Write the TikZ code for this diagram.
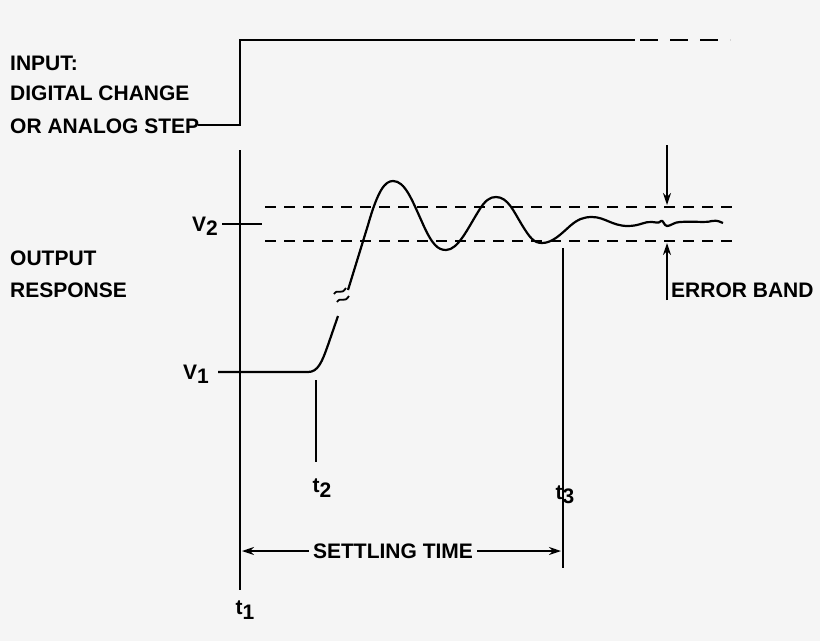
\documentclass[tikz,border=0pt]{standalone}
\usepackage{fontspec}
\setmainfont{Liberation Sans}
\usetikzlibrary{arrows.meta}
\begin{document}
\begin{tikzpicture}[x=1pt,y=-1pt,
  ln/.style={line width=2.2pt},
  thin/.style={line width=1.8pt},
  dsh/.style={line width=2pt,dash pattern=on 11pt off 8pt},
  lbl/.style={font=\bfseries\fontsize{21}{21}\selectfont,inner sep=0pt},
  arr/.style={line width=1.6pt,-{Stealth[length=12pt,width=8pt]}}]
\fill[white!96!black] (0,0) rectangle (820,641);
\useasboundingbox (0,0) rectangle (820,641);
% labels
\node[lbl,anchor=west] (in1) at (10,63) {INPUT:};
\node[lbl,anchor=west] (in2) at (10,93) {DIGITAL CHANGE};
\node[lbl,anchor=west] (in3) at (10,126) {OR ANALOG STEP};
\node[lbl,anchor=west] (out1) at (10,258) {OUTPUT};
\node[lbl,anchor=west] (out2) at (10,290) {RESPONSE};
% input step
\coordinate (s0) at (198,125);
\coordinate (s1) at (240,125);
\coordinate (s2) at (240,40);
\coordinate (s3) at (635,40);
\coordinate (s4) at (730,40);
\draw[ln] (s0) -- (s1) -- (s2) -- (s3);
\draw[line width=2pt,dash pattern=on 18pt off 12pt] (640,40) -- (s4);
% axis
\coordinate (a0) at (240,150); \coordinate (a1) at (240,590);
\draw[ln] (a0) -- (a1);
% V2
\coordinate (v2a) at (222,224); \coordinate (v2b) at (262,224);
\draw[thin] (v2a) -- (v2b);
\node[lbl] (V2) at (205,226) {V\raisebox{-0.4ex}{2}};
\node[lbl] (V1) at (196,374) {V\raisebox{-0.4ex}{1}};
% dashed band
\coordinate (d1) at (265,207); \coordinate (d2) at (735,207);
\coordinate (d3) at (265,241); \coordinate (d4) at (735,241);
\draw[dsh] (d1) -- (d2);
\draw[dsh] (d3) -- (d4);
% response curve
\draw[ln,line join=round] (218,372) -- (308,372) .. controls (318,372) and (322,362) .. (328,345) -- (338,316);
\draw[ln,line join=round] (348,290) -- (368,225) .. controls (378,190) and (385,181) .. (393,181)
  .. controls (405,181) and (412,200) .. (422,222) .. controls (432,245) and (438,250) .. (446,250)
  .. controls (458,250) and (468,228) .. (478,212) .. controls (485,200) and (490,197) .. (496,197)
  .. controls (508,197) and (514,212) .. (522,225) .. controls (530,238) and (534,243) .. (542,243)
  .. controls (552,243) and (560,235) .. (570,226) .. controls (578,219) and (584,217) .. (592,217)
  .. controls (605,217) and (612,226) .. (628,226)
  .. controls (640,226) and (645,221) .. (652,222) .. controls (656,222) and (658,224) .. (661,221)
  .. controls (663,219) and (664,226) .. (667,226) .. controls (671,226) and (674,222) .. (680,222)
  .. controls (695,221) and (705,223) .. (712,221) .. controls (718,220) and (720,222) .. (723,223);
% break marks
\draw[line width=1.8pt] (334,294) .. controls (338,288) and (341,296) .. (346,288);
\draw[line width=1.8pt] (337,302) .. controls (341,296) and (344,304) .. (349,296);
% t2
\coordinate (t2a) at (316,380); \coordinate (t2b) at (316,462);
\draw[thin] (t2a) -- (t2b);
\node[lbl] (T2) at (322,488) {t\raisebox{-0.4ex}{2}};
% t3
\coordinate (t3a) at (563,248); \coordinate (t3b) at (563,568);
\draw[thin] (t3a) -- (t3b);
\node[lbl] (T3) at (565,495) {t\raisebox{-0.4ex}{3}};
\node[lbl] (T1) at (245,610) {t\raisebox{-0.4ex}{1}};
% settling time
\node[lbl,fill=white!96!black,inner xsep=4pt] (st) at (393,551) {SETTLING TIME};
\coordinate (sa) at (242,551); \coordinate (sb) at (561,551);
\draw[arr] (st.west) -- (sa);
\draw[arr] (st.east) -- (sb);
% error band
\coordinate (e0) at (667,145); \coordinate (e1) at (667,205);
\coordinate (e2) at (667,300); \coordinate (e3) at (667,243);
\draw[arr] (e0) -- (e1);
\draw[arr] (e2) -- (e3);
\node[lbl,anchor=west] (eb) at (671,290) {ERROR BAND};
\end{tikzpicture}
\end{document}
